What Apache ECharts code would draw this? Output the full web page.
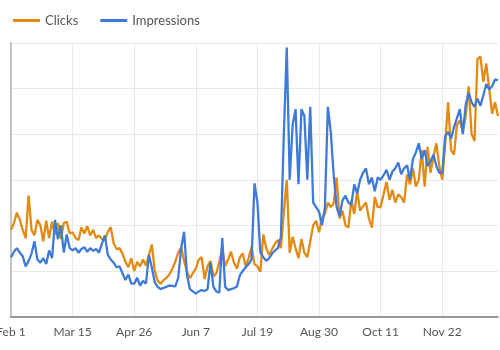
<!DOCTYPE html>
<html>
<head>
<meta charset="utf-8">
<script src="https://cdn.jsdelivr.net/npm/echarts@6/dist/echarts.min.js"></script>
<style>
  html, body { margin: 0; padding: 0; background: #fff; }
  #chart { width: 500px; height: 350px; }
</style>
</head>
<body>
<div id="chart"></div>
<script>
// one point every 2 days, starting Feb 1
const startDate = '2023-02-01'
const stepDays = 2

const clicks = [
  190, 205, 228, 212, 190, 172, 265, 190, 178, 212, 200, 165, 210, 172, 208, 180, 205, 170, 205, 208, 182,
  185, 172, 168, 195, 182, 198, 178, 190, 172, 178, 170, 168, 185, 196, 160, 148, 150, 138, 120, 108, 128,
  100, 120, 110, 125, 112, 135, 158, 100, 78, 72, 80, 85, 92, 105, 120, 140, 152, 122, 98, 84, 95,
  105, 125, 130, 82, 110, 122, 88, 95, 120, 150, 110, 125, 142, 118, 105, 130, 138, 110, 128, 152, 115,
  110, 98, 180, 150, 135, 148, 160, 168, 150, 230, 300, 140, 175, 150, 128, 170, 140, 130, 165, 200, 210,
  185, 215, 225, 250, 240, 248, 305, 215, 232, 200, 195, 255, 225, 275, 232, 242, 250, 215, 195, 262, 240,
  240, 268, 295, 256, 278, 250, 268, 262, 250, 312, 290, 325, 285, 300, 365, 285, 372, 315, 350, 380, 330,
  300, 380, 470, 365, 355, 420, 430, 405, 440, 505, 400, 385, 565, 570, 515, 555, 500, 445, 470, 440
]

const impressions = [
  130, 142, 150, 140, 132, 110, 122, 138, 165, 125, 118, 128, 115, 145, 128, 212, 170, 200, 140, 180, 150,
  145, 150, 140, 148, 152, 142, 150, 144, 148, 140, 160, 178, 135, 125, 118, 108, 110, 95, 80, 92, 72,
  72, 85, 68, 78, 72, 135, 108, 75, 65, 60, 63, 65, 68, 67, 66, 85, 150, 186, 90, 60, 55,
  50, 55, 58, 56, 60, 118, 65, 55, 52, 172, 65, 58, 60, 62, 66, 90, 100, 108, 115, 125, 292,
  250, 140, 130, 122, 128, 138, 145, 150, 175, 400, 590, 300, 420, 455, 290, 455, 440, 300, 460, 250, 240,
  230, 200, 240, 460, 405, 310, 240, 220, 255, 265, 250, 245, 290, 270, 300, 315, 325, 290, 305, 275, 305,
  300, 310, 322, 300, 318, 325, 338, 312, 325, 332, 300, 345, 360, 380, 345, 365, 330, 340, 355, 330, 315,
  315, 395, 405, 390, 415, 435, 455, 400, 465, 490, 470, 460, 478, 462, 485, 510, 498, 505, 520, 518
]

const monthNames = ['Jan', 'Feb', 'Mar', 'Apr', 'May', 'Jun', 'Jul', 'Aug', 'Sep', 'Oct', 'Nov', 'Dec']

// date categories
const dates = clicks.map((v, i) => {
  const d = new Date(startDate + 'T00:00:00Z')
  d.setUTCDate(d.getUTCDate() + i * stepDays)
  return monthNames[d.getUTCMonth()] + ' ' + d.getUTCDate()
})

const chart = echarts.init(document.getElementById('chart'))

const option = {
  animation: false,
  color: ['#E38A12', '#3F7AD9'],
  textStyle: { fontFamily: 'Lato' },
  legend: {
    left: 8,
    top: 9,
    icon: 'rect',
    itemWidth: 27,
    itemHeight: 3,
    itemGap: 22,
    textStyle: { fontSize: 13, color: '#555' },
    data: ['Clicks', 'Impressions']
  },
  grid: { left: 11, right: 2, top: 43, bottom: 33.5, outerBoundsMode: 'none' },
  xAxis: {
    type: 'category',
    boundaryGap: false,
    data: dates,
    axisLine: { lineStyle: { color: '#777', width: 1.5 } },
    axisTick: { show: false },
    axisLabel: { interval: 20, margin: 10, fontSize: 12, color: '#555', alignMinLabel: 'center' },
    splitLine: { show: true, interval: 20, lineStyle: { color: '#e8e8e8' } }
  },
  yAxis: {
    type: 'value',
    min: 0,
    max: 600,
    interval: 100,
    axisLabel: { show: false },
    axisLine: { show: true, lineStyle: { color: '#c4c4c4', width: 2 } },
    axisTick: { show: false },
    splitLine: { lineStyle: { color: '#e8e8e8' } }
  },
  series: [
    {
      name: 'Clicks',
      type: 'line',
      data: clicks,
      showSymbol: false,
      lineStyle: { width: 2.3 }
    },
    {
      name: 'Impressions',
      type: 'line',
      data: impressions,
      showSymbol: false,
      lineStyle: { width: 2.3 }
    }
  ]
}

chart.setOption(option)
</script>
</body>
</html>
